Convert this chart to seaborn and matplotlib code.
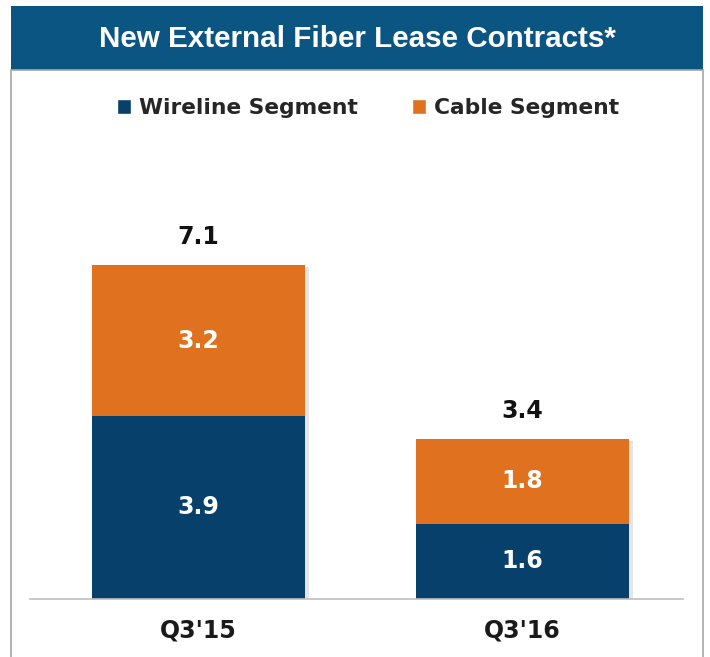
import matplotlib
matplotlib.use('Agg')
import matplotlib.pyplot as plt
import matplotlib.patheffects as pe
import seaborn as sns
import pandas as pd
from matplotlib.patches import Rectangle, Patch

# values
quarters = ["Q3'15", "Q3'16"]
wireline = [3.9, 1.6]
cable = [3.2, 1.8]
totals = [7.1, 3.4]

navy = '#07406a'
orange = '#e0711f'
banner = '#0b5583'

df = pd.DataFrame({'quarter': quarters, 'wireline': wireline, 'cable': cable, 'total': totals})

sns.set_style('white')
plt.rcParams['font.family'] = ['DejaVu Sans']

W, H = 710, 657
fig = plt.figure(figsize=(W / 100, H / 100), dpi=100)

def fx(px):
    return px / W

def fy(py):
    return 1 - py / H

# banner and panel frame
fig.patches.append(Rectangle((fx(11), fy(70)), fx(692), 64 / H, transform=fig.transFigure,
                             facecolor=banner, edgecolor='none', zorder=0))
fig.patches.append(Rectangle((fx(11), fy(660)), fx(692), 590 / H, transform=fig.transFigure,
                             facecolor='none', edgecolor='#a6a6a6', linewidth=1.2, zorder=0))
fig.text(fx(357), fy(39), 'New External Fiber Lease Contracts*', color='white',
         fontsize=21.3, fontweight='bold', ha='center', va='center',
         family=['Liberation Sans', 'DejaVu Sans'])

ax = fig.add_axes([fx(30), fy(599), fx(653), 470 / H])
sns.barplot(data=df, x='quarter', y='total', color=orange, width=0.657, ax=ax,
            saturation=1, edgecolor='none')
sns.barplot(data=df, x='quarter', y='wireline', color=navy, width=0.657, ax=ax,
            saturation=1, edgecolor='none')
shadow = [pe.SimplePatchShadow(offset=(3, -1), shadow_rgbFace='#999999', alpha=0.25), pe.Normal()]
for p in ax.patches[:2]:
    p.set_path_effects(shadow)
ax.set_ylim(0, 10)
ax.set_xlim(-0.52, 1.495)
ax.set_yticks([])
ax.set_xlabel('')
ax.set_ylabel('')
for s in ['top', 'right', 'left']:
    ax.spines[s].set_visible(False)
ax.spines['bottom'].set_color('#bfbfbf')
ax.spines['bottom'].set_linewidth(1.2)
ax.spines['bottom'].set_zorder(5)
ax.tick_params(axis='x', length=0, pad=14)
for lab in ax.get_xticklabels():
    lab.set_fontsize(17)
    lab.set_fontweight('bold')
    lab.set_color('#1a1a1a')

for i in range(len(quarters)):
    ax.text(i, wireline[i] / 2, f'{wireline[i]:.1f}', ha='center', va='center',
            color='white', fontsize=17, fontweight='bold')
    ax.text(i, wireline[i] + cable[i] / 2, f'{cable[i]:.1f}', ha='center', va='center',
            color='white', fontsize=17, fontweight='bold')
    ax.text(i, totals[i] + 0.35, f'{totals[i]:.1f}', ha='center', va='bottom',
            color='#111111', fontsize=17, fontweight='bold')

handles = [Patch(facecolor=navy, label='Wireline Segment'),
           Patch(facecolor=orange, label='Cable Segment')]
leg = fig.legend(handles=handles, loc='center', bbox_to_anchor=(fx(368), fy(108)), ncol=2,
                 frameon=False, handlelength=0.65, handleheight=0.65, handletextpad=0.35,
                 columnspacing=2.5, prop={'weight': 'bold', 'size': 15.7})

fig.savefig('out.png', dpi=100)
